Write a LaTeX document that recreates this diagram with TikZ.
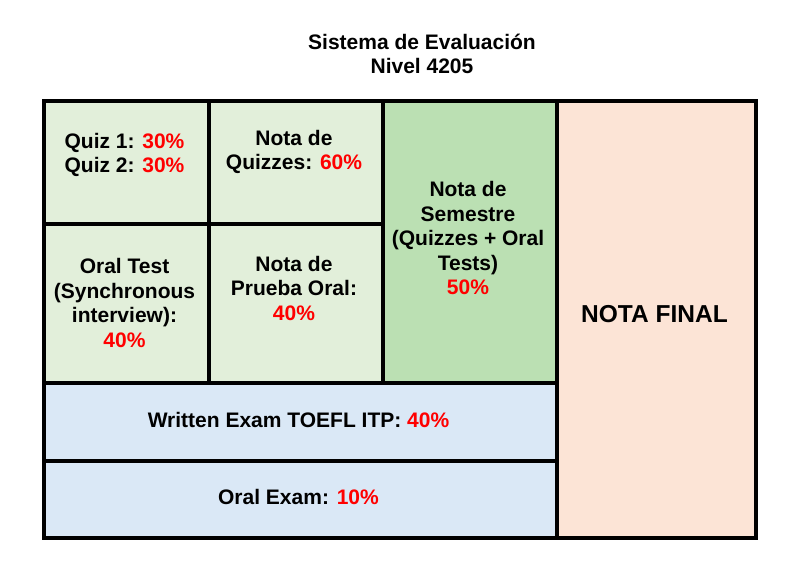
\documentclass[tikz,border=0pt]{standalone}
\usepackage{fontspec}
\setmainfont{Liberation Sans}
\definecolor{quizgreen}{RGB}{226,239,218}
\definecolor{semgreen}{RGB}{187,224,179}
\definecolor{exblue}{RGB}{218,232,246}
\definecolor{finalpeach}{RGB}{252,228,214}
\newcommand{\pct}[1]{\textcolor{red}{#1}}
\tikzset{
  cell/.style={draw, line width=3.5pt, inner sep=0pt, anchor=north west},
  txt/.style={font=\fontsize{21}{24.5}\selectfont\bfseries, align=center, inner sep=0pt},
}

\begin{document}
\begin{tikzpicture}[x=1pt,y=-1pt]
	\useasboundingbox (0,0) rectangle (790,570);

	% cells
	\node[cell, fill=quizgreen, minimum width=165, minimum height=123] (quiz) at (42,99) {};
	\node[cell, fill=quizgreen, minimum width=174, minimum height=123] (notaq) at (207,99) {};
	\node[cell, fill=quizgreen, minimum width=165, minimum height=159] (oral) at (42,222) {};
	\node[cell, fill=quizgreen, minimum width=174, minimum height=159] (prueba) at (207,222) {};
	\node[cell, fill=semgreen, minimum width=174, minimum height=282] (sem) at (381,99) {};
	\node[cell, fill=exblue, minimum width=513, minimum height=78] (written) at (42,381) {};
	\node[cell, fill=exblue, minimum width=513, minimum height=77] (oralex) at (42,459) {};
	\node[cell, fill=finalpeach, minimum width=199, minimum height=437] (final) at (555,99) {};

	% texts
	\node[txt] (title) at (422,54) {Sistema de Evaluación\\Nivel 4205};
	\node[txt] (quizT) at (124.5,155) {Quiz 1: \pct{30\%}\\Quiz 2: \pct{30\%}};
	\node[txt] (notaqT) at (294,152) {Nota de\\Quizzes: \pct{60\%}};
	\node[txt] (oralT) at (124.5,303) {Oral Test\\(Synchronous\\interview):\\\pct{40\%}};
	\node[txt] (pruebaT) at (294,288) {Nota de\\Prueba Oral:\\\pct{40\%}};
	\node[txt] (semT) at (468,238) {Nota de\\Semestre\\(Quizzes + Oral\\Tests)\\\pct{50\%}};
	\node[txt] (writtenT) at (298.5,420) {Written Exam TOEFL ITP: \pct{40\%}};
	\node[txt] (oralexT) at (298.5,497) {Oral Exam: \pct{10\%}};
	\node[txt, font=\fontsize{24.5}{28}\selectfont\bfseries] (finalT) at (654.5,314) {NOTA FINAL};
\end{tikzpicture}
\end{document}
